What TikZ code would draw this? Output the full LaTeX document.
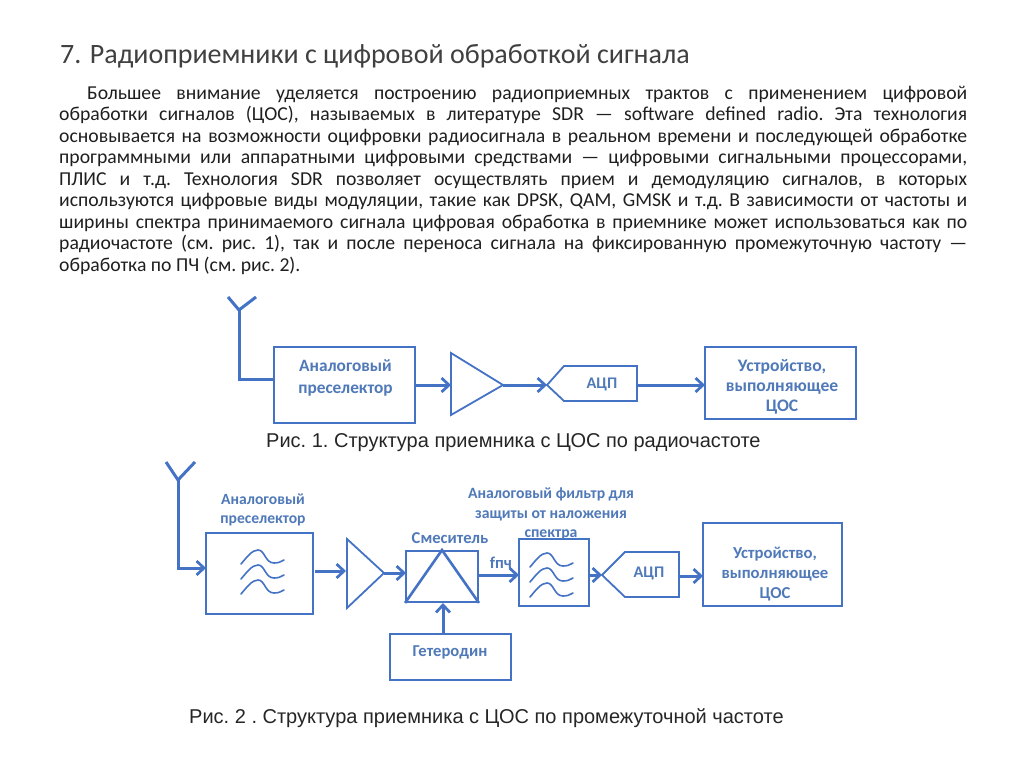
\documentclass[tikz,border=0pt]{standalone}
\usepackage{fontspec}
\setmainfont{Carlito}
\newfontfamily\capfont{Liberation Sans}
\usetikzlibrary{arrows.meta}
\definecolor{sblue}{HTML}{4472C4}
\definecolor{lblue}{HTML}{4F79B8}
\newcommand{\fs}[1]{\fontsize{#1}{#1}\selectfont}
\tikzset{
  x=1pt,y=-1pt,
  blk/.style={draw=sblue,line width=1.9pt,inner sep=0pt},
  shp/.style={draw=sblue,line width=1.8pt,line join=miter},
  wire/.style={draw=sblue,line width=3pt,line join=miter},
  arr/.style={wire,-{Straight Barb[length=7.5pt,width=14pt,line width=2.7pt]}},
  lbl/.style={text=lblue,align=center,inner sep=0pt,font=\fs{15.6}\bfseries},
  figcap/.style={text=black!85,inner sep=0pt,anchor=base west,font=\capfont\fs{20}\frenchspacing},
  squig/.style={draw=sblue,line width=1.6pt,line cap=round},
}
\newcommand{\squiggles}[2]{%
  \foreach \d in {0,15,30}{
    \draw[squig,shift={(#1,#2+\d)}] (0,14) .. controls (6,7) and (11,0) .. (17,0)
      .. controls (24,0) and (24,13) .. (33,13) .. controls (37,13) and (40,12) .. (43,10);
  }}
\begin{document}
\begin{tikzpicture}
\useasboundingbox[fill=white] (0,0) rectangle (1024,767);

\node[anchor=base west,inner sep=0pt,text=black!75,font=\fs{28}] (title) at (60,64)
  {7. Радиоприемники с цифровой обработкой сигнала};

\node[anchor=north west,inner sep=0pt,text width=908pt,align=justify,text=black!88,font=\fs{19.7}] (body) at (59,86)
 {\setlength{\baselineskip}{21.45pt}\frenchspacing\hbadness=10000\hfuzz=20pt
 \hspace*{28pt}Большее внимание уделяется построению радиоприемных трактов с применением цифровой\linebreak
 обработки сигналов (ЦОС), называемых в литературе SDR — software defined radio. Эта технология\linebreak
 основывается на возможности оцифровки радиосигнала в реальном времени и последующей обработке\linebreak
 программными или аппаратными цифровыми средствами — цифровыми сигнальными процессорами,\linebreak
 ПЛИС и т.д. Технология SDR позволяет осуществлять прием и демодуляцию сигналов, в которых\linebreak
 используются цифровые виды модуляции, такие как DPSK, QAM, GMSK и т.д. В зависимости от частоты и\linebreak
 ширины спектра принимаемого сигнала цифровая обработка в приемнике может использоваться как по\linebreak
 радиочастоте (см. рис. 1), так и после переноса сигнала на фиксированную промежуточную частоту —\linebreak
 обработка по ПЧ (см. рис. 2).\par};

% --- Figure 1
\coordinate (a1l) at (228,297);
\coordinate (a1j) at (239,310);
\coordinate (a1r) at (256,297);
\node[blk,minimum width=141pt,minimum height=76pt] (pre1) at (344.5,385) {};
\node[lbl,font=\fs{17.3}\bfseries] (pre1t) at (345.5,378) {Аналоговый\\[4pt]преселектор};
\draw[wire] (a1l) -- (a1j) -- (a1r);
\draw[wire] (a1j) |- (pre1.west |- 0,379);
\coordinate (t1a) at (451,353);
\coordinate (t1b) at (451,415);
\coordinate (t1c) at (503,385);
\coordinate (t1in) at (451,385);
\draw[shp] (t1a) -- (t1c) -- (t1b) -- cycle;
\coordinate (adc1tip) at (547,385);
\draw[shp] (adc1tip) -- (564,366) -- (637,366) -- (637,401) -- (564,401) -- cycle;
\node[lbl,font=\fs{16.2}\bfseries] (adc1) at (602,384) {АЦП};
\coordinate (adc1out) at (637,385);
\node[blk,minimum width=151pt,minimum height=72pt] (dsp1) at (780.5,383) {};
\node[lbl,font=\fs{17.6}\bfseries] (dsp1t) at (782,387) {Устройство,\\[2.5pt]выполняющее\\[2.5pt]ЦОС};
\coordinate (dsp1in) at (705,385);
\draw[arr] (pre1.east) -- (t1in);
\draw[arr] (t1c) -- (adc1tip);
\draw[arr] (adc1out) -- (dsp1in);
\node[figcap] (cap1) at (266,447) {Рис. 1. Структура приемника с ЦОС по радиочастоте};

% --- Figure 2
\coordinate (a2l) at (166,462);
\coordinate (a2j) at (178,480);
\coordinate (a2r) at (195,462);
\node[blk,minimum width=107pt,minimum height=81pt] (pre2) at (259.5,573.5) {};
\coordinate (pre2in) at (206,568);
\coordinate (pre2out) at (315,571);
\draw[wire] (a2l) -- (a2j) -- (a2r);
\draw[arr] (a2j) |- (pre2in);
\squiggles{241}{550}
\node[lbl] (pre2t) at (263,510) {Аналоговый\\[4pt]преселектор};
\coordinate (t2a) at (347,539);
\coordinate (t2b) at (347,608);
\coordinate (t2c) at (384,573);
\coordinate (t2in) at (346,571);
\draw[shp] (t2a) -- (t2c) -- (t2b) -- cycle;
\draw[arr] (pre2out) -- (t2in);
\node[blk,minimum width=72pt,minimum height=51pt] (mix) at (442,576.5) {};
\coordinate (mixin) at (406,573);
\coordinate (mixout) at (478,575);
\coordinate (mixb) at (443,603);
\draw[arr] (t2c) -- (mixin);
\draw[wire,line width=2.6pt] (mix.south west) -- (mix.north) -- (mix.south east);
\node[lbl,font=\fs{16.6}\bfseries] (mixt) at (450,538) {Смеситель};
\node[blk,minimum width=121pt,minimum height=46pt] (lo) at (450.5,657) {};
\node[lbl,font=\fs{16.6}\bfseries] (lot) at (450,652) {Гетеродин};
\coordinate (loout) at (443,634);
\draw[arr] (loout) -- (mixb);
\node[blk,minimum width=70pt,minimum height=67pt] (flt) at (554,572.5) {};
\coordinate (fltin) at (519,575);
\coordinate (fltout) at (589,575);
\draw[arr] (mixout) -- (fltin);
\node[lbl,font=\fs{16.5}\bfseries] (fpch) at (501,563) {fпч};
\squiggles{530}{553}
\node[lbl,font=\fs{15.7}\bfseries] (fltt) at (551,514) {Аналоговый фильтр для\\[3.5pt]защиты от наложения\\[3.5pt]спектра};
\coordinate (adc2tip) at (602,575);
\draw[shp] (adc2tip) -- (625,552) -- (679,552) -- (679,597) -- (625,597) -- cycle;
\draw[arr] (fltout) -- (adc2tip);
\node[lbl,font=\fs{16.2}\bfseries] (adc2) at (649,573) {АЦП};
\coordinate (adc2out) at (679,576);
\node[blk,minimum width=139pt,minimum height=83pt] (dsp2) at (772.5,564.5) {};
\node[lbl,font=\fs{16.7}\bfseries] (dsp2t) at (775,574) {Устройство,\\[3.5pt]выполняющее\\[3.5pt]ЦОС};
\coordinate (dsp2in) at (703,576);
\draw[arr] (adc2out) -- (dsp2in);
\node[figcap] (cap2) at (189,723) {Рис. 2 . Структура приемника с ЦОС по промежуточной частоте};
\end{tikzpicture}
\end{document}
